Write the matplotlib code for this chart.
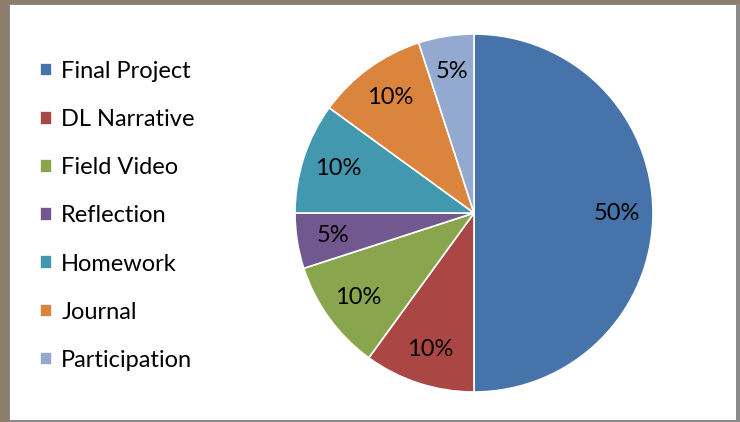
import matplotlib
matplotlib.use("Agg")
import matplotlib.pyplot as plt
from matplotlib.patches import Rectangle

plt.rcParams["font.family"] = ["Lato", "DejaVu Sans"]

categories = ["Final Project", "DL Narrative", "Field Video", "Reflection",
              "Homework", "Journal", "Participation"]
shares = [50, 10, 10, 5, 10, 10, 5]
colors = ["#4674AA", "#AA4643", "#89A54E", "#71588F", "#4198AF", "#DB843D", "#93A9CF"]

fig = plt.figure(figsize=(7.40, 4.22), dpi=100)
fig.patch.set_facecolor("#8C7E6B")

# chart area panel: gray frame, then white
fig.add_artist(Rectangle((9 / 740, 0), 731 / 740, 418 / 422, transform=fig.transFigure,
                         facecolor="#8A8A8A", edgecolor="none", zorder=0))
fig.add_artist(Rectangle((10 / 740, 2 / 422), 726 / 740, 415 / 422, transform=fig.transFigure,
                         facecolor="white", edgecolor="none", zorder=0))

ax = fig.add_axes([295 / 740, 30 / 422, 358 / 740, 358 / 422])
wedges, texts, autotexts = ax.pie(
    shares, colors=colors, startangle=90, counterclock=False,
    autopct="%d%%", pctdistance=0.8, radius=1,
    wedgeprops=dict(edgecolor="white", linewidth=1.2),
    textprops=dict(fontsize=17, color="black"))
ax.set_xlim(-1, 1)
ax.set_ylim(-1, 1)
ax.set_aspect("equal")

fig.legend(wedges, categories, loc="upper left", bbox_to_anchor=(40 / 740, 1 - 61 / 422),
           frameon=False, fontsize=17, handlelength=0.5, handleheight=0.5,
           handletextpad=0.4, labelspacing=1.15, borderpad=0, borderaxespad=0)

fig.savefig("out.png", dpi=100)
